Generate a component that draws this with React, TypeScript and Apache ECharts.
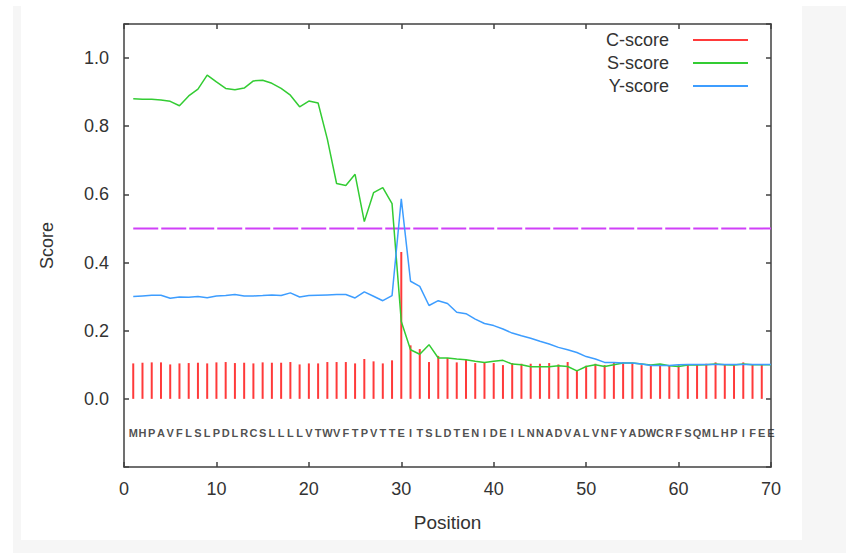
import React, { useEffect, useRef } from "react";
import * as echarts from "echarts";

const sequence = "MHPAVFLSLPDLRCSLLLLVTWVFTPVTTEITSLDTENIDEILNNADVALVNFYADWCRFSQMLHPIFEE".split("");

const cScore = [
  0.104, 0.106, 0.107, 0.107, 0.101, 0.104, 0.105, 0.106, 0.104, 0.107,
  0.108, 0.105, 0.106, 0.104, 0.107, 0.106, 0.106, 0.108, 0.101, 0.104,
  0.104, 0.108, 0.108, 0.108, 0.104, 0.117, 0.110, 0.104, 0.113, 0.431,
  0.157, 0.146, 0.108, 0.126, 0.120, 0.107, 0.115, 0.105, 0.107, 0.105,
  0.099, 0.105, 0.103, 0.103, 0.103, 0.105, 0.101, 0.108, 0.085, 0.097,
  0.103, 0.099, 0.108, 0.107, 0.105, 0.099, 0.099, 0.101, 0.099, 0.099,
  0.101, 0.101, 0.103, 0.107, 0.101, 0.099, 0.107, 0.101, 0.101,
];

const sScore = [
  0.881, 0.879, 0.879, 0.877, 0.873, 0.860, 0.889, 0.909, 0.950, 0.930,
  0.911, 0.907, 0.912, 0.933, 0.935, 0.926, 0.911, 0.891, 0.857, 0.874,
  0.868, 0.762, 0.632, 0.626, 0.659, 0.520, 0.605, 0.620, 0.573, 0.227,
  0.144, 0.131, 0.159, 0.120, 0.120, 0.117, 0.115, 0.110, 0.107, 0.110,
  0.113, 0.102, 0.100, 0.094, 0.094, 0.094, 0.097, 0.095, 0.082, 0.095,
  0.100, 0.095, 0.100, 0.105, 0.105, 0.102, 0.099, 0.102, 0.097, 0.095,
  0.099, 0.099, 0.100, 0.102, 0.100, 0.099, 0.102, 0.100, 0.100, 0.100,
];

const yScore = [
  0.300, 0.302, 0.304, 0.304, 0.295, 0.299, 0.298, 0.300, 0.297, 0.302,
  0.303, 0.306, 0.302, 0.302, 0.303, 0.305, 0.303, 0.311, 0.299, 0.303,
  0.304, 0.305, 0.306, 0.306, 0.296, 0.314, 0.301, 0.288, 0.303, 0.587,
  0.345, 0.330, 0.274, 0.288, 0.280, 0.254, 0.250, 0.234, 0.221, 0.215,
  0.205, 0.193, 0.185, 0.178, 0.169, 0.161, 0.151, 0.144, 0.136, 0.124,
  0.117, 0.107, 0.107, 0.105, 0.105, 0.102, 0.098, 0.098, 0.098, 0.100,
  0.101, 0.101, 0.101, 0.101, 0.101, 0.101, 0.101, 0.101, 0.101, 0.101,
];

const cutoff = 0.5;
const cutoffRange = [1, 70];
const letterLevel = -0.1;

const FONT = "'Liberation Sans', Arial, sans-serif";
const AXIS_COLOR = "#404040";
const TEXT_COLOR = "#333333";

export default function App() {
  const ref = useRef<HTMLDivElement>(null);

  useEffect(() => {
    if (!ref.current) return;
    const chart = echarts.init(ref.current, undefined, { renderer: "svg" });

    const axisCommon = {
      type: "value" as const,
      axisLine: { show: true, onZero: false, lineStyle: { color: AXIS_COLOR, width: 1.5 } },
      axisTick: { show: true, inside: true, length: 5, lineStyle: { color: AXIS_COLOR, width: 1.5 } },
      splitLine: { show: false },
    };

    const option: any = {
      animation: false,
      backgroundColor: "transparent",
      textStyle: { fontFamily: FONT },
      graphic: [
        { type: "rect", z: -100, silent: true, shape: { x: 13, y: 6, width: 833, height: 547 }, style: { fill: "#f6f6f6" } },
        { type: "rect", z: -99, silent: true, shape: { x: 21, y: 6, width: 781, height: 534 }, style: { fill: "#ffffff" } },
      ],
      grid: { left: 124, right: 75, top: 24, bottom: 86, containLabel: false },
      legend: {
        orient: "vertical",
        right: 98,
        top: 31,
        padding: 0,
        align: "right",
        itemWidth: 55,
        itemHeight: 2,
        itemGap: 5,
        icon: "rect",
        data: ["C-score", "S-score", "Y-score"],
        textStyle: { fontSize: 18, color: TEXT_COLOR, fontFamily: FONT, padding: [0, 19, 0, 0] },
      },
      xAxis: [
        {
          ...axisCommon,
          position: "bottom",
          min: 0,
          max: 70,
          interval: 10,
          name: "Position",
          nameLocation: "middle",
          nameGap: 46,
          nameTextStyle: { fontSize: 19, color: TEXT_COLOR, fontFamily: FONT },
          axisLabel: { fontSize: 18, color: TEXT_COLOR, margin: 13, fontFamily: FONT },
        },
        {
          ...axisCommon,
          position: "top",
          min: 0,
          max: 70,
          interval: 10,
          axisLabel: { show: false },
        },
      ],
      yAxis: [
        {
          ...axisCommon,
          position: "left",
          min: -0.2,
          max: 1.1,
          interval: 0.2,
          name: "Score",
          nameLocation: "middle",
          nameGap: 68,
          nameRotate: 90,
          nameTextStyle: { fontSize: 18, color: TEXT_COLOR, fontFamily: FONT },
          axisLabel: {
            fontSize: 18,
            color: TEXT_COLOR,
            margin: 15,
            fontFamily: FONT,
            formatter: (v: number) => (v < -0.01 || v > 1.05 ? "" : v.toFixed(1)),
          },
        },
        {
          ...axisCommon,
          position: "right",
          min: -0.2,
          max: 1.1,
          interval: 0.2,
          axisLabel: { show: false },
        },
      ],
      series: [
        {
          name: "C-score",
          type: "bar",
          xAxisIndex: 0,
          yAxisIndex: 0,
          barWidth: 2,
          itemStyle: { color: "#ff3a3a" },
          data: cScore.map((v, i) => [i + 1, v]),
        },
        {
          name: "S-score",
          type: "line",
          xAxisIndex: 0,
          yAxisIndex: 0,
          symbol: "none",
          itemStyle: { color: "#33cc33" },
          lineStyle: { color: "#33cc33", width: 1.5 },
          data: sScore.map((v, i) => [i + 1, v]),
        },
        {
          name: "Y-score",
          type: "line",
          xAxisIndex: 0,
          yAxisIndex: 0,
          symbol: "none",
          itemStyle: { color: "#3d9dff" },
          lineStyle: { color: "#3d9dff", width: 1.5 },
          data: yScore.map((v, i) => [i + 1, v]),
        },
        {
          name: "cutoff",
          type: "line",
          xAxisIndex: 0,
          yAxisIndex: 0,
          symbol: "none",
          z: 1,
          lineStyle: { color: "#d040f8", width: 2, type: [25, 3] },
          data: cutoffRange.map((x) => [x, cutoff]),
        },
        {
          name: "sequence",
          type: "scatter",
          xAxisIndex: 0,
          yAxisIndex: 0,
          symbol: "circle",
          symbolSize: 0.1,
          itemStyle: { color: "transparent" },
          label: {
            show: true,
            position: "inside",
            formatter: (p: any) => p.data[2],
            fontSize: 11,
            fontWeight: "bold",
            color: "#222222",
            fontFamily: FONT,
          },
          data: sequence.map((s, i) => [i + 1, letterLevel, s]),
        },
      ],
    };

    chart.setOption(option);
    return () => chart.dispose();
  }, []);

  return (
    <div
      ref={ref}
      style={{ position: "fixed", left: 0, top: 0, width: 846, height: 553, background: "#ffffff" }}
    />
  );
}
